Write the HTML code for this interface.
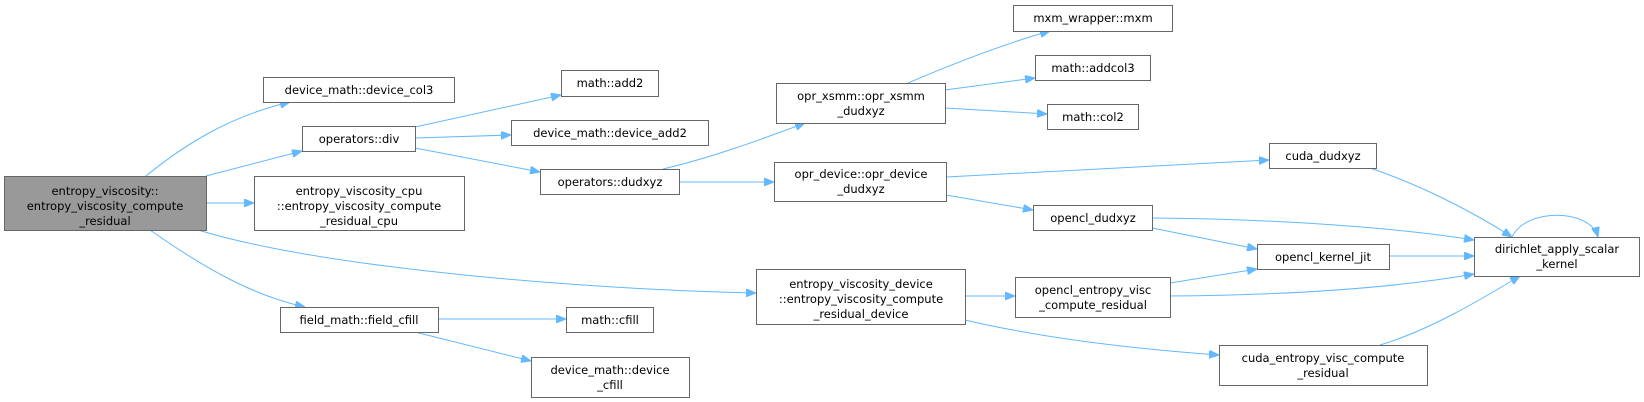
<!DOCTYPE html>
<html><head><meta charset="utf-8"><style>
html,body{margin:0;padding:0;background:#fff;}
svg{display:block}
text{font-family:"DejaVu Sans","Liberation Sans",sans-serif;font-size:11.5px;fill:#000;text-anchor:middle}
.b{fill:#fff;stroke:#666;stroke-width:1}
.e{fill:none;stroke:#63b8ff;stroke-width:1}
</style></head><body>
<svg width="1644" height="402" viewBox="0 0 1644 402" xmlns="http://www.w3.org/2000/svg">
<defs><marker id="a" markerWidth="10" markerHeight="8" refX="10" refY="4" orient="auto" markerUnits="userSpaceOnUse"><path d="M0,0 L10,4 L0,8 z" fill="#63b8ff" stroke="#63b8ff"/></marker></defs>
<g class="e" marker-end="url(#a)">
<path d="M146,176 C190,140 235,115 290,102"/>
<path d="M206,176 L302,151"/>
<path d="M206,203 L254,203"/>
<path d="M150,230 C200,265 250,295 305,307"/>
<path d="M198,230 C330,270 600,290 756,293"/>
<path d="M415,127 L561,95"/>
<path d="M415,138 L511,135"/>
<path d="M415,148 L540,172"/>
<path d="M438,319 L566,319"/>
<path d="M415,332 L531,361"/>
<path d="M663,169 C710,158 760,140 805,123"/>
<path d="M679,182 L774,182"/>
<path d="M908,83 C950,65 1000,45 1050,31"/>
<path d="M945,90 L1035,78"/>
<path d="M945,108 L1047,114"/>
<path d="M946,177 L1269,160"/>
<path d="M946,195 L1033,210"/>
<path d="M1370,168 C1420,185 1470,210 1512,237"/>
<path d="M1152,218 C1280,219 1400,228 1474,240"/>
<path d="M1152,228 L1257,249"/>
<path d="M1389,256 L1474,256"/>
<path d="M1170,283 L1257,269"/>
<path d="M1170,296 C1300,295 1400,287 1474,274"/>
<path d="M965,296 L1015,296"/>
<path d="M965,320 C1050,340 1150,350 1219,355"/>
<path d="M1380,345 C1430,330 1480,300 1520,276"/>
<path d="M1512,237 C1525,208 1590,208 1598,237"/>
</g>
<rect x="4.5" y="176.5" width="202" height="54" fill="#999" stroke="#666"/>
<text x="105" y="195">entropy_viscosity::</text><text x="105" y="210">entropy_viscosity_compute</text><text x="105" y="225">_residual</text>
<rect class="b" x="263.5" y="77.5" width="191" height="25"/><text x="359" y="94">device_math::device_col3</text>
<rect class="b" x="302.5" y="126.5" width="113" height="25"/><text x="359" y="143">operators::div</text>
<rect class="b" x="254.5" y="176.5" width="210" height="54"/><text x="359" y="195">entropy_viscosity_cpu</text><text x="359" y="210">::entropy_viscosity_compute</text><text x="359" y="225">_residual_cpu</text>
<rect class="b" x="280.5" y="307.5" width="158" height="25"/><text x="359" y="324">field_math::field_cfill</text>
<rect class="b" x="561.5" y="70.5" width="97" height="26"/><text x="610" y="87">math::add2</text>
<rect class="b" x="511.5" y="120.5" width="197" height="25"/><text x="610" y="137">device_math::device_add2</text>
<rect class="b" x="540.5" y="169.5" width="139" height="25"/><text x="610" y="186">operators::dudxyz</text>
<rect class="b" x="566.5" y="307.5" width="87" height="25"/><text x="610" y="324">math::cfill</text>
<rect class="b" x="531.5" y="357.5" width="158" height="40"/><text x="610" y="374">device_math::device</text><text x="610" y="389">_cfill</text>
<rect class="b" x="776.5" y="83.5" width="169" height="40"/><text x="861" y="100">opr_xsmm::opr_xsmm</text><text x="861" y="115">_dudxyz</text>
<rect class="b" x="774.5" y="162.5" width="172" height="39"/><text x="861" y="178">opr_device::opr_device</text><text x="861" y="193">_dudxyz</text>
<rect class="b" x="756.5" y="269.5" width="209" height="55"/><text x="861" y="288">entropy_viscosity_device</text><text x="861" y="303">::entropy_viscosity_compute</text><text x="861" y="318">_residual_device</text>
<rect class="b" x="1013.5" y="5.5" width="159" height="26"/><text x="1093" y="22">mxm_wrapper::mxm</text>
<rect class="b" x="1035.5" y="55.5" width="115" height="25"/><text x="1093" y="72">math::addcol3</text>
<rect class="b" x="1047.5" y="104.5" width="91" height="25"/><text x="1093" y="121">math::col2</text>
<rect class="b" x="1033.5" y="205.5" width="119" height="25"/><text x="1093" y="222">opencl_dudxyz</text>
<rect class="b" x="1015.5" y="277.5" width="155" height="40"/><text x="1093" y="294">opencl_entropy_visc</text><text x="1093" y="309">_compute_residual</text>
<rect class="b" x="1269.5" y="143.5" width="107" height="25"/><text x="1323" y="160">cuda_dudxyz</text>
<rect class="b" x="1257.5" y="244.5" width="132" height="25"/><text x="1323" y="261">opencl_kernel_jit</text>
<rect class="b" x="1219.5" y="345.5" width="208" height="40"/><text x="1323" y="362">cuda_entropy_visc_compute</text><text x="1323" y="377">_residual</text>
<rect class="b" x="1474.5" y="237.5" width="165" height="39"/><text x="1557" y="253">dirichlet_apply_scalar</text><text x="1557" y="268">_kernel</text>
</svg>
</body></html>
